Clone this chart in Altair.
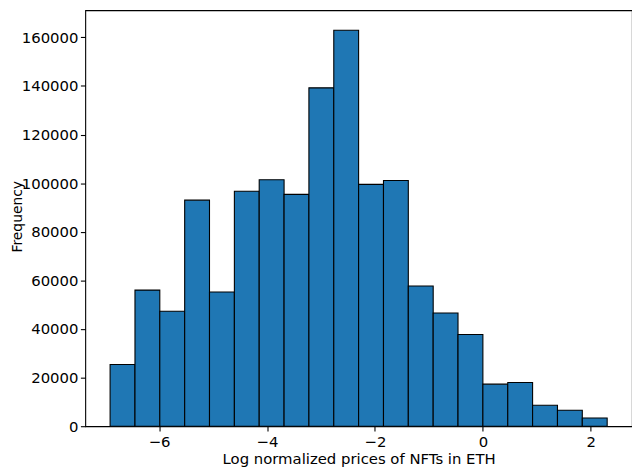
import altair as alt
import pandas as pd

# Bin edges (log normalized price, ETH) and counts
bin_left = [-6.908, -6.447, -5.987, -5.526, -5.066, -4.605, -4.145, -3.684, -3.224, -2.763,
            -2.303, -1.842, -1.382, -0.921, -0.461, 0.000, 0.461, 0.921, 1.382, 1.842]
bin_right = [-6.447, -5.987, -5.526, -5.066, -4.605, -4.145, -3.684, -3.224, -2.763, -2.303,
             -1.842, -1.382, -0.921, -0.461, 0.000, 0.461, 0.921, 1.382, 1.842, 2.303]
counts = [25400, 56000, 47300, 93000, 55200, 96700, 101400, 95400, 139200, 162900,
          99500, 101100, 57700, 46600, 37700, 17300, 18000, 8600, 6600, 3400]

x_ticks = [-6, -4, -2, 0, 2]
y_ticks = [0, 20000, 40000, 60000, 80000, 100000, 120000, 140000, 160000]

df = pd.DataFrame({"lo": bin_left, "hi": bin_right, "count": counts})

FONT = "DejaVu Sans"

chart = alt.Chart(df).mark_bar(
    color="#1f77b4", stroke="black", strokeWidth=1.1
).encode(
    x=alt.X("lo:Q",
            scale=alt.Scale(domain=[-7.3683, 2.7631], nice=False, zero=False),
            axis=alt.Axis(title="Log normalized prices of NFTs in ETH", values=x_ticks,
                          format="d", grid=False, domain=False, tickSize=4.9,
                          tickWidth=1.1, tickColor="black", labelPadding=3.5,
                          titlePadding=2)),
    x2="hi:Q",
    y=alt.Y("count:Q",
            scale=alt.Scale(domain=[0, 171150], nice=False),
            axis=alt.Axis(title="Frequency", values=y_ticks, format="d", grid=False,
                          domain=False, tickSize=4.9, tickWidth=1.1, tickColor="black",
                          labelPadding=2.5, titleX=-61.5, titleY=208, titleFontSize=14)),
    y2=alt.datum(0),
).properties(
    width=552, height=420,
    autosize=alt.AutoSizeParams(type="none"),
    padding={"left": 78, "top": 0, "right": 0, "bottom": 45},
).configure_view(
    stroke="black", strokeWidth=1.1
).configure_axis(
    labelFont=FONT, titleFont=FONT, labelFontSize=15, titleFontSize=15,
    labelColor="black", titleColor="black", titleFontWeight="normal",
)

chart.save("out.html", embed_options={"renderer": "svg", "actions": False})
